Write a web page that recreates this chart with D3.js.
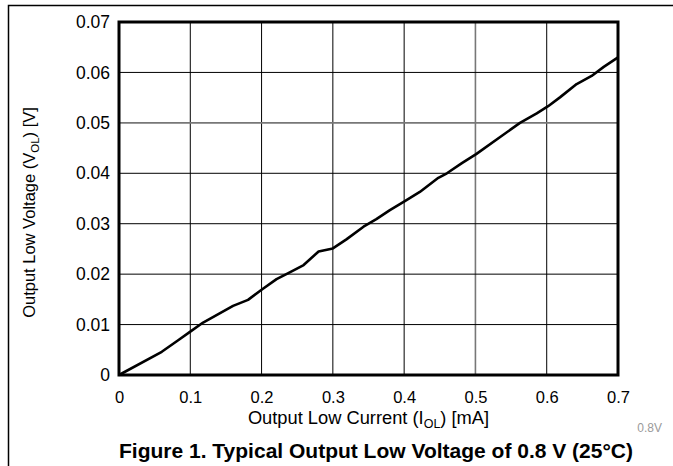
<!DOCTYPE html>
<html>
<head>
<meta charset="utf-8">
<script src="https://cdn.jsdelivr.net/npm/d3@7"></script>
<style>
  body { margin: 0; background: #fff; }
  svg { display: block; font-family: "Liberation Sans", Arial, sans-serif; }
</style>
</head>
<body>
<div id="chart"></div>
<script>
// 読み取った値
const currentMA = [0, 0.06, 0.083, 0.1, 0.118, 0.16, 0.181, 0.2, 0.221, 0.2375, 0.259, 0.28, 0.30, 0.319, 0.343, 0.361, 0.38, 0.401, 0.422, 0.448, 0.46, 0.481, 0.501, 0.5625, 0.586, 0.602, 0.619, 0.642, 0.663, 0.68, 0.7];
const voltageV = [0, 0.0046, 0.0069, 0.0086, 0.0104, 0.0137, 0.0149, 0.0169, 0.019, 0.0202, 0.0218, 0.0245, 0.0251, 0.0269, 0.0294, 0.0309, 0.0327, 0.0345, 0.0363, 0.0391, 0.040, 0.042, 0.0438, 0.050, 0.0519, 0.0533, 0.0551, 0.0577, 0.0593, 0.0611, 0.063];
const xTicks = [0, 0.1, 0.2, 0.3, 0.4, 0.5, 0.6, 0.7];
const yTicks = [0, 0.01, 0.02, 0.03, 0.04, 0.05, 0.06, 0.07];
const xTickLabels = ["0", "0.1", "0.2", "0.3", "0.4", "0.5", "0.6", "0.7"];
const yTickLabels = ["0", "0.01", "0.02", "0.03", "0.04", "0.05", "0.06", "0.07"];

const width = 673, height = 466;
const plot = { left: 119, right: 618, top: 22, bottom: 375 };

const svg = d3.select("#chart").append("svg")
  .attr("width", width)
  .attr("height", height);

// 外枠 (上と左だけ)
svg.append("path")
  .attr("d", `M8.5,${height}V5.5H${width}`)
  .attr("fill", "none")
  .attr("stroke", "#000")
  .attr("stroke-width", 1.5);

const x = d3.scaleLinear().domain([0, 0.7]).range([plot.left, plot.right]);
const y = d3.scaleLinear().domain([0, 0.07]).range([plot.bottom, plot.top]);

// グリッド
const grid = svg.append("g").attr("class", "grid");
grid.selectAll("line.v")
  .data(xTicks.slice(1, -1))
  .join("line")
  .attr("class", "v")
  .attr("x1", d => x(d)).attr("x2", d => x(d))
  .attr("y1", plot.top).attr("y2", plot.bottom)
  .attr("stroke", d => d === 0.5 ? "#777" : "#000")
  .attr("stroke-width", d => d === 0.5 ? 1.6 : 1);
grid.selectAll("line.h")
  .data(yTicks.slice(1, -1))
  .join("line")
  .attr("class", "h")
  .attr("y1", d => y(d)).attr("y2", d => y(d))
  .attr("x1", plot.left).attr("x2", plot.right)
  .attr("stroke", d => d === 0.05 ? "#777" : "#000")
  .attr("stroke-width", d => d === 0.05 ? 1.6 : 1);

// 軸
const xAxis = svg.append("g")
  .attr("transform", `translate(0,${plot.bottom})`)
  .call(d3.axisBottom(x).tickValues(xTicks).tickSize(0).tickPadding(16)
    .tickFormat((d, i) => xTickLabels[i]));
xAxis.select(".domain").remove();
xAxis.selectAll("text").attr("font-size", 16.5).attr("fill", "#000")
  .attr("font-family", "Liberation Sans, Arial, sans-serif");

const yAxis = svg.append("g")
  .attr("transform", `translate(${plot.left},0)`)
  .call(d3.axisLeft(y).tickValues(yTicks).tickSize(0).tickPadding(9)
    .tickFormat((d, i) => yTickLabels[i]));
yAxis.select(".domain").remove();
yAxis.selectAll("text").attr("font-size", 17.5).attr("fill", "#000")
  .attr("font-family", "Liberation Sans, Arial, sans-serif");

// 曲線
const data = currentMA.map((c, i) => ({ c, v: voltageV[i] }));
svg.append("path")
  .datum(data)
  .attr("fill", "none")
  .attr("stroke", "#000")
  .attr("stroke-width", 2.6)
  .attr("stroke-linejoin", "round")
  .attr("d", d3.line().x(d => x(d.c)).y(d => y(d.v)));

// プロット枠
svg.append("rect")
  .attr("x", plot.left).attr("y", plot.top)
  .attr("width", plot.right - plot.left)
  .attr("height", plot.bottom - plot.top)
  .attr("fill", "none")
  .attr("stroke", "#000")
  .attr("stroke-width", 3);

// 軸ラベル
const xl = svg.append("text")
  .attr("x", (plot.left + plot.right) / 2)
  .attr("y", 424)
  .attr("text-anchor", "middle")
  .attr("font-size", 18.3);
xl.append("tspan").text("Output Low Current (I");
xl.append("tspan").attr("font-size", 12.5).attr("dy", 4).text("OL");
xl.append("tspan").attr("dy", -4).text(") [mA]");

const yl = svg.append("text")
  .attr("transform", `translate(35,${(plot.top + plot.bottom) / 2 + 14})rotate(-90)`)
  .attr("text-anchor", "middle")
  .attr("font-size", 16.5);
yl.append("tspan").text("Output Low Voltage (V");
yl.append("tspan").attr("font-size", 11.5).attr("dy", 4).text("OL");
yl.append("tspan").attr("dy", -4).text(") [V]");

svg.append("text")
  .attr("x", 662).attr("y", 432)
  .attr("text-anchor", "end")
  .attr("font-size", 12)
  .attr("fill", "#9a9a9a")
  .text("0.8V");

svg.append("text")
  .attr("x", 376).attr("y", 458)
  .attr("text-anchor", "middle")
  .attr("font-size", 21)
  .attr("font-weight", "bold")
  .text("Figure 1. Typical Output Low Voltage of 0.8 V (25°C)");
</script>
</body>
</html>
